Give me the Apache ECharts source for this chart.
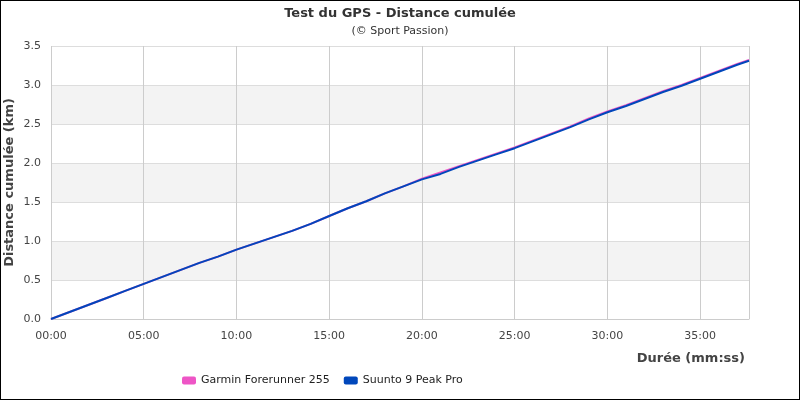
<!DOCTYPE html>
<html>
<head>
<meta charset="utf-8">
<script src="https://cdn.jsdelivr.net/npm/echarts@6/dist/echarts.min.js"></script>
<style>
    html, body {margin: 0; padding: 0; background: #fff;}
    #main {width: 800px; height: 400px; box-sizing: border-box; border: 1px solid #000;}
</style>
</head>
<body>
<div id="main"></div>
<script>
    // temps en minutes
    var minutes = [0, 1, 2, 3, 4, 5, 6, 7, 8, 9, 10, 11, 12, 13, 14, 15, 16, 17, 18, 19,
        20, 21, 22, 23, 24, 25, 26, 27, 28, 29, 30, 31, 32, 33, 34, 35, 36, 37, 37.63];
    // distance cumulée (km)
    var garmin = [0.00, 0.09, 0.18, 0.27, 0.36, 0.45, 0.54, 0.63, 0.72, 0.80, 0.89, 0.97, 1.05, 1.13, 1.22, 1.32, 1.42, 1.51, 1.61, 1.70,
        1.80, 1.88, 1.96, 2.04, 2.12, 2.20, 2.29, 2.38, 2.47, 2.57, 2.66, 2.74, 2.83, 2.92, 3.00, 3.09, 3.18, 3.27, 3.32];
    var suunto = [0.00, 0.09, 0.18, 0.27, 0.36, 0.45, 0.54, 0.63, 0.72, 0.80, 0.89, 0.97, 1.05, 1.13, 1.22, 1.32, 1.42, 1.51, 1.61, 1.70,
        1.79, 1.86, 1.95, 2.03, 2.11, 2.19, 2.28, 2.37, 2.46, 2.56, 2.65, 2.73, 2.82, 2.91, 2.99, 3.08, 3.17, 3.26, 3.31];

    function pairs(values) {
        var out = [];
        for (var a = 0; a < values.length; a++) {
            out.push([Math.round(minutes[a] * 60), values[a]]);
        }
        return out;
    }

    function mmss(sec) {
        var m = Math.floor(sec / 60), s = Math.round(sec % 60);
        return (m < 10 ? '0' : '') + m + ':' + (s < 10 ? '0' : '') + s;
    }

    var myChart = echarts.init(document.getElementById('main'));
    var font = 'DejaVu Sans';

    var option = {
        animation: false,
        title: {
            text: 'Test du GPS - Distance cumulée',
            subtext: '(© Sport Passion)',
            left: 'center',
            top: 1,
            itemGap: 6,
            textStyle: {fontFamily: font, fontSize: 13, fontWeight: 'bold', color: '#333'},
            subtextStyle: {fontFamily: font, fontSize: 11, color: '#333'}
        },
        legend: {
            left: 176,
            top: 369,
            itemWidth: 14,
            itemHeight: 8,
            itemGap: 14,
            icon: 'roundRect',
            textStyle: {fontFamily: font, fontSize: 11, color: '#222'},
            data: ['Garmin Forerunner 255', 'Suunto 9 Peak Pro']
        },
        grid: {left: 50, right: 50, top: 45, bottom: 80, containLabel: false, outerBoundsMode: 'none'},
        xAxis: {
            type: 'value',
            min: 0,
            max: 2258,
            interval: 300,
            name: 'Durée (mm:ss)',
            nameLocation: 'end',
            nameGap: 0,
            nameMoveOverlap: false,
            nameTextStyle: {
                fontFamily: font, fontSize: 13, fontWeight: 'bold', color: '#444',
                align: 'right', verticalAlign: 'top', padding: [33, 4, 0, 0]
            },
            axisLine: {lineStyle: {color: '#ccc'}},
            axisTick: {show: false},
            axisLabel: {
                fontFamily: font, fontSize: 11, color: '#444', margin: 12,
                showMaxLabel: false,
                formatter: mmss
            },
            splitLine: {show: true, lineStyle: {color: '#ccc'}}
        },
        yAxis: {
            type: 'value',
            min: 0,
            max: 3.5,
            interval: 0.5,
            name: 'Distance cumulée (km)',
            nameLocation: 'middle',
            nameGap: 35,
            nameMoveOverlap: false,
            nameTextStyle: {fontFamily: font, fontSize: 13, fontWeight: 'bold', color: '#444'},
            axisLine: {show: false},
            axisTick: {show: false},
            axisLabel: {
                fontFamily: font, fontSize: 11, color: '#444', margin: 10,
                formatter: function (v) { return v.toFixed(1); }
            },
            splitLine: {lineStyle: {color: '#ddd'}},
            splitArea: {show: true, areaStyle: {color: ['#ffffff', '#f3f3f3']}}
        },
        series: [
            {
                name: 'Garmin Forerunner 255',
                type: 'line',
                showSymbol: false,
                symbol: 'none',
                color: '#ee55c6',
                lineStyle: {width: 2},
                data: pairs(garmin)
            },
            {
                name: 'Suunto 9 Peak Pro',
                type: 'line',
                showSymbol: false,
                symbol: 'none',
                color: '#0047bb',
                lineStyle: {width: 2},
                data: pairs(suunto)
            }
        ]
    };
    myChart.setOption(option);
</script>
</body>
</html>
